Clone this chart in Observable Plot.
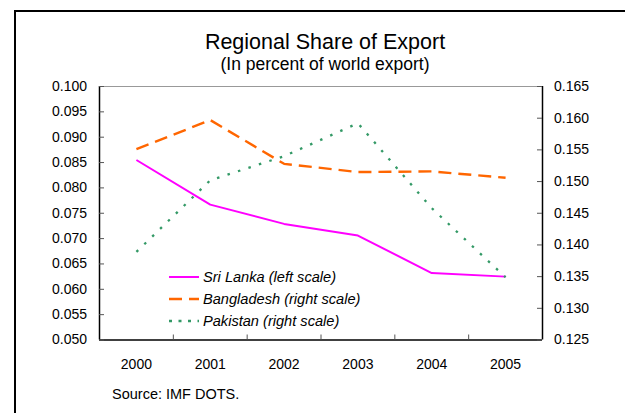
<!DOCTYPE html>
<html>
<head>
<meta charset="utf-8">
<script src="https://cdn.jsdelivr.net/npm/d3@7"></script>
<script src="https://cdn.jsdelivr.net/npm/@observablehq/plot@0.6"></script>
<style>
  html, body { margin: 0; padding: 0; background: #fff; }
  #wrap { position: relative; width: 625px; height: 413px; overflow: hidden; font-family: "Liberation Sans", Arial, sans-serif; color: #000; }
  #frame { position: absolute; left: 14px; top: 10px; width: 800px; height: 600px; border-left: 2px solid #000; border-top: 2px solid #000; box-sizing: border-box; pointer-events: none; }
  .t { position: absolute; left: 0; width: 650px; text-align: center; white-space: nowrap; }
  #title { top: 32px; font-size: 21.5px; line-height: 21.5px; }
  #subtitle { top: 56px; font-size: 17.5px; line-height: 17.5px; }
  #source { position: absolute; left: 112px; top: 387px; font-size: 14.5px; line-height: 14.5px; }
  #chart { position: absolute; left: 0; top: 0; }
  #legend { position: absolute; left: 169px; top: 266px; font-size: 14.6px; font-style: italic; }
  .row { height: 22px; line-height: 22px; display: flex; align-items: center; white-space: nowrap; }
  .row svg { width: 30px; height: 10px; margin-right: 4px; }
</style>
</head>
<body>
<div id="wrap">
  <div id="chart"></div>
  <div class="t" id="title">Regional Share of Export</div>
  <div class="t" id="subtitle">(In percent of world export)</div>
  <div id="legend"></div>
  <div id="source">Source: IMF DOTS.</div>
  <div id="frame"></div>
</div>
<script>
const years = [2000, 2001, 2002, 2003, 2004, 2005];
const sriLanka   = [0.0855, 0.0767, 0.0729, 0.0706, 0.0632, 0.0625];
const bangladesh = [0.1551, 0.1597, 0.1528, 0.1515, 0.1516, 0.1506];
const pakistan   = [0.1389, 0.1502, 0.1540, 0.1592, 0.1458, 0.1349];
const leftTicks  = [0.050, 0.055, 0.060, 0.065, 0.070, 0.075, 0.080, 0.085, 0.090, 0.095, 0.100];
const rightTicks = [0.125, 0.130, 0.135, 0.140, 0.145, 0.150, 0.155, 0.160, 0.165];
const seriesNames = ["Sri Lanka (left scale)", "Bangladesh (right scale)", "Pakistan (right scale)"];
const seriesColors = ["#ff00ff", "#ff6600", "#339966"];
const seriesDash = [null, "13,7", "2.5,8.5"];
const legendDash = [null, "13,7", "3,6.5"];
const seriesWidth = [2, 2.4, 2.3];

const leftDomain = [0.05, 0.10];
const rightDomain = [0.125, 0.165];
const k = (leftDomain[1] - leftDomain[0]) / (rightDomain[1] - rightDomain[0]);
const toLeft = v => leftDomain[0] + (v - rightDomain[0]) * k;
const fromLeft = v => rightDomain[0] + (v - leftDomain[0]) / k;

const W = 625, H = 413, mL = 99, mR = 83, mT = 86, mB = 73.5;
const plotW = W - mL - mR, plotH = H - mT - mB;

const data = [];
years.forEach((y, i) => {
  data.push({year: y, v: sriLanka[i], s: 0});
  data.push({year: y, v: toLeft(bangladesh[i]), s: 1});
  data.push({year: y, v: toLeft(pakistan[i]), s: 2});
});
const bounds = years.slice(0, -1).map(y => y + 0.5);
const xDomain = [years[0] - 0.5, years[years.length - 1] + 0.5];

const fontStyle = {fontFamily: "'Liberation Sans', Arial, sans-serif", fontSize: "14px", color: "#000", background: "transparent", overflow: "visible"};

const chart = Plot.plot({
  width: W, height: H,
  marginLeft: mL, marginRight: mR, marginTop: mT, marginBottom: mB,
  style: fontStyle,
  x: {domain: xDomain, axis: null, label: null},
  y: {domain: leftDomain, axis: null, label: null},
  marks: [
    Plot.ruleY([leftDomain[1]], {stroke: "#999", strokeWidth: 1.2}),
    Plot.ruleY([leftDomain[0]], {stroke: "#000", strokeWidth: 1.5}),
    Plot.ruleX(xDomain, {stroke: "#000", strokeWidth: 1.5}),
    Plot.tickY(leftTicks, {y: d => d, insetRight: plotW - 5, stroke: "#555"}),
    Plot.tickY(rightTicks.map(toLeft), {y: d => d, insetLeft: plotW - 5, stroke: "#555"}),
    Plot.tickX(bounds, {x: d => d, insetTop: plotH - 5, stroke: "#555"}),
    Plot.axisY(leftTicks, {anchor: "left", label: null, tickSize: 0, tickPadding: 12.5, tickFormat: d => d.toFixed(3), fontSize: 14}),
    Plot.axisY(rightTicks.map(toLeft), {anchor: "right", label: null, tickSize: 0, tickPadding: 11.5, tickFormat: d => fromLeft(d).toFixed(3), fontSize: 14}),
    Plot.axisX(years, {anchor: "bottom", label: null, tickSize: 0, tickPadding: 19.5, tickFormat: d => String(d), fontSize: 14}),
    ...[0, 1, 2].map(s => Plot.line(data.filter(d => d.s === s), {
      x: "year", y: "v", stroke: seriesColors[s], strokeWidth: seriesWidth[s],
      strokeDasharray: seriesDash[s], strokeLinejoin: "miter", strokeLinecap: "butt"
    }))
  ]
});
document.getElementById("chart").appendChild(chart);

const legend = document.getElementById("legend");
seriesNames.forEach((name, i) => {
  const row = document.createElement("div");
  row.className = "row";
  const dash = legendDash[i] ? ` stroke-dasharray="${legendDash[i]}"` : "";
  row.innerHTML = `<svg viewBox="0 0 30 10"><line x1="0" y1="5" x2="30" y2="5" stroke="${seriesColors[i]}" stroke-width="${seriesWidth[i]}"${dash}/></svg><span>${name}</span>`;
  legend.appendChild(row);
});
</script>
</body>
</html>
